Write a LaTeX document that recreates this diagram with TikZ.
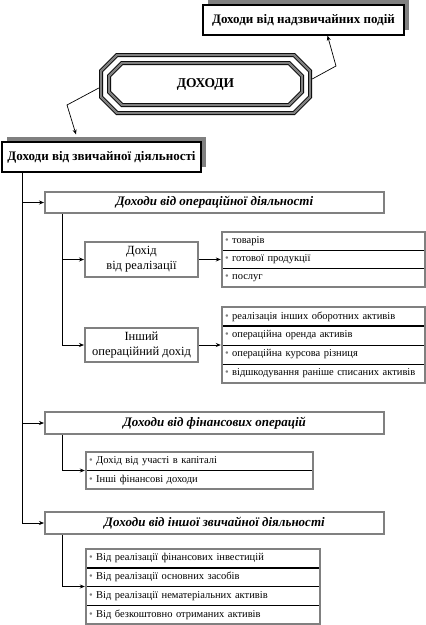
\documentclass[tikz,border=0pt]{standalone}
\usepackage{fontspec}
\setmainfont{Liberation Serif}
\usetikzlibrary{positioning,fit,shadows,arrows.meta}
\tikzset{
 arr/.style={-{Stealth[length=5pt,width=4pt]},line width=0.7pt},
 shadowbox/.style={draw=black,line width=1.2pt,fill=white,
   font=\fontsize{13}{15}\selectfont\bfseries,
   drop shadow={shadow xshift=5pt,shadow yshift=5pt,fill=gray,opacity=1}},
 band/.style={draw=black,line width=0.8pt,double=gray,double distance=2.4pt},
 head/.style={draw=gray,line width=2pt,fill=white,minimum width=339pt,
   minimum height=21pt,font=\fontsize{13}{15}\selectfont\bfseries\itshape},
 sub/.style={draw=gray,line width=2pt,minimum width=113pt,minimum height=35pt,
   align=center,font=\fontsize{12.5}{15}\selectfont},
 row/.style={anchor=north west,inner xsep=3pt,inner ysep=0pt,outer sep=0pt,
   align=left,font=\fontsize{10.5}{12}\selectfont},
 frame/.style={draw=gray,line width=2.4pt,inner sep=0pt},
 thickline/.style={line width=1.6pt},
}
\newcommand{\itm}{\textcolor{gray}{\textbullet}\ }

\begin{document}
\begin{tikzpicture}[x=1pt,y=-1pt]
        \useasboundingbox (0,0) rectangle (426,625);
        \node[shadowbox,minimum width=201pt,minimum height=30pt] (extra) at (303.5,20) {Доходи від надзвичайних подій};
        \node[shadowbox,minimum width=199pt,minimum height=30pt] (ordin) at (101.5,157) {Доходи від звичайної діяльності};
        \node[minimum width=213pt,minimum height=62pt,font=\fontsize{13.5}{16}\selectfont\bfseries] (dox) at (205.5,84) {ДОХОДИ};
        \draw[band] (117,55) -- (294,55) -- (310,71) -- (310,97) -- (294,113) -- (117,113) -- (101,97) -- (101,71) -- cycle;
        \draw[band] (122,63) -- (289,63) -- (302,76) -- (302,92) -- (289,105) -- (122,105) -- (109,92) -- (109,76) -- cycle;
        \coordinate (kl) at (67,105);
        \coordinate (kr) at (336,66);
        \draw[arr] ([yshift=-4pt]dox.west) -- (kl) -- ([shift={(-25.5,-7)}]ordin.north);
        \draw[arr] ([yshift=5pt]dox.east) -- (kr) -- ([xshift=24pt]extra.south);

        \node[head] (oper) at (214.5,202.5) {Доходи від операційної діяльності};
        \node[head,minimum height=22pt] (fin) at (214.5,423) {Доходи від фінансових операцій};
        \node[head,minimum height=22pt] (other) at (214.5,523) {Доходи від іншої звичайної діяльності};
        \coordinate (tr) at ([xshift=21pt]ordin.south west);
        \draw[arr] (tr) |- (other.west);
        \draw[arr] (tr |- oper.west) -- (oper.west);
        \draw[arr] (tr |- fin.west) -- (fin.west);

        \node[sub] (real) at (141.5,259.5) {Дохід\\від реалізації};
        \node[sub,minimum height=34pt] (inop) at (141.5,345) {Інший\\операційний дохід};
        \coordinate (st) at ([xshift=18pt]oper.south west);
        \draw[arr] (st) |- (inop.west);
        \draw[arr] (st |- real.west) -- (real.west);

        \node[row,text width=197pt,minimum height=18.3pt] (t1) at (222,232) {\itm товарів};
        \node[row,text width=197pt,minimum height=18.3pt,below=0pt of t1] (t2) {\itm готової продукції};
        \node[row,text width=197pt,minimum height=18.3pt,below=0pt of t2] (t3) {\itm послуг};
        \draw (t1.south west) -- (t1.south east);
        \draw (t2.south west) -- (t2.south east);
        \node[frame,fit=(t1)(t3)] (tov) {};
        \draw[arr] (real.east) -- (tov.west);

        \node[row,text width=197pt,minimum height=19pt] (o1) at (222,307) {\itm реалізація інших оборотних активів};
        \node[row,text width=197pt,minimum height=19pt,below=0pt of o1] (o2) {\itm операційна оренда активів};
        \node[row,text width=197pt,minimum height=19pt,below=0pt of o2] (o3) {\itm операційна курсова різниця};
        \node[row,text width=197pt,minimum height=19pt,below=0pt of o3] (o4) {\itm відшкодування раніше списаних активів};
        \draw[thickline] (o1.south west) -- (o1.south east);
        \draw (o2.south west) -- (o2.south east);
        \draw (o3.south west) -- (o3.south east);
        \node[frame,fit=(o1)(o4)] (ops) {};
        \draw[arr] (inop.east) -- (ops.west);

        \node[row,text width=221pt,minimum height=18.5pt] (f1) at (86,452) {\itm Дохід від участі в капіталі};
        \node[row,text width=221pt,minimum height=18.5pt,below=0pt of f1] (f2) {\itm Інші фінансові доходи};
        \draw (f1.south west) -- (f1.south east);
        \node[frame,fit=(f1)(f2)] (fl) {};
        \draw[arr] ([xshift=18pt]fin.south west) |- (fl.west);

        \node[row,text width=228pt,minimum height=18.75pt] (v1) at (86,549) {\itm Від реалізації фінансових інвестицій};
        \node[row,text width=228pt,minimum height=18.75pt,below=0pt of v1] (v2) {\itm Від реалізації основних засобів};
        \node[row,text width=228pt,minimum height=18.75pt,below=0pt of v2] (v3) {\itm Від реалізації нематеріальних активів};
        \node[row,text width=228pt,minimum height=18.75pt,below=0pt of v3] (v4) {\itm Від безкоштовно отриманих активів};
        \draw[thickline] (v1.south west) -- (v1.south east);
        \draw (v2.south west) -- (v2.south east);
        \draw (v3.south west) -- (v3.south east);
        \node[frame,fit=(v1)(v4)] (vl) {};
        \draw[arr] ([xshift=18pt]other.south west) |- (vl.west);
    \end{tikzpicture}
\end{document}
